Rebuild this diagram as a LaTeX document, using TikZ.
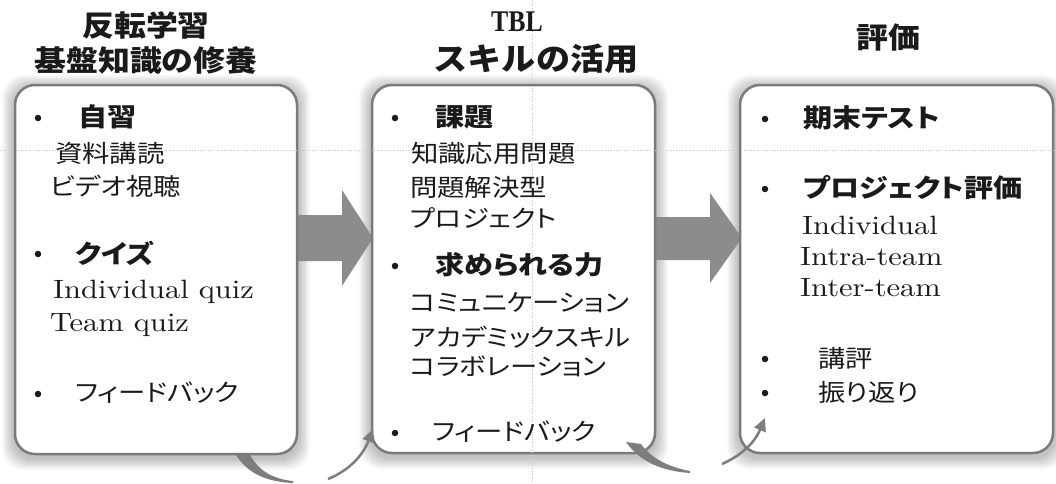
\documentclass[tikz,border=0pt]{standalone}
\usepackage{fontspec}
\newfontfamily\jp{Noto Sans CJK JP}[FakeStretch=1.14,RawFeature=+palt]
\newfontfamily\jph{Noto Sans CJK JP}[FakeStretch=1.1]
\newfontfamily\en{lmroman10-regular.otf}[FakeStretch=1.15]
\newfontfamily\tblf{Liberation Serif Bold}[FakeStretch=0.86]
\usetikzlibrary{arrows.meta,calc,backgrounds}
\definecolor{txt}{HTML}{1A1A1A}
\definecolor{boxgray}{HTML}{7A7A7A}
\definecolor{arrgray}{HTML}{8C8C8C}
\definecolor{curvgray}{HTML}{7D7D7D}
\definecolor{gridc}{HTML}{C8C8C8}
\begin{document}
\begin{tikzpicture}[x=1pt,y=-1pt,
  panel/.style={draw=boxgray, line width=2.5pt, fill=white, rounded corners=20pt, inner sep=0pt},
  jt/.style={anchor=west, inner sep=0pt, text=txt, font=\jp\fontsize{24}{26}\selectfont},
  jb/.style={anchor=west, inner sep=0pt, text=txt, font=\jp\bfseries\fontsize{25.5}{27}\selectfont},
  et/.style={anchor=west, inner sep=0pt, text=txt, font=\en\fontsize{26.5}{28}\selectfont},
  bul/.style={circle, fill=txt, inner sep=0pt, minimum size=6.5pt},
  hd/.style={anchor=center, inner sep=0pt, text=txt, font=\jph\bfseries\fontsize{29}{30}\selectfont},
  bigarrow/.style={fill=arrgray},
  curvefill/.style={fill=curvgray},
  curvetip/.style={draw=curvgray, line width=2.5pt, -{Triangle[length=13pt,width=12pt]}},
  gridline/.style={draw=gridc, line width=0.6pt, dotted}
]
\useasboundingbox (0,0) rectangle (1056,483);

% panels
\node[panel, minimum width=282pt, minimum height=369pt] (b1) at (156,269.5) {};
\node[panel, minimum width=283pt, minimum height=368pt] (b2) at (513.5,269) {};
\node[panel, minimum width=313pt, minimum height=368pt] (b3) at (896.5,269) {};

\begin{scope}[on background layer]
  \fill[white] (0,0) rectangle (1056,483);
  \foreach \n in {b1,b2,b3}{
    \foreach \i in {1,...,9}{
      \fill[black, opacity=0.028, rounded corners=22pt]
        ($(\n.north west)+(-\i*1.3,-\i*1.3+3)$) rectangle ($(\n.south east)+(\i*1.3,\i*1.3+3)$);
    }
  }
  % big arrows
  \fill[bigarrow] (290,215) -- (342,215) -- (342,190) -- (373,238) -- (342,286) -- (342,261) -- (290,261) -- cycle;
  \fill[bigarrow] (650,217) -- (710,217) -- (710,193) -- (742,238) -- (710,283) -- (710,260) -- (650,260) -- cycle;
\end{scope}

% faint guide lines
\draw[gridline] (0,150) -- (1056,150);
\draw[gridline] (532,0) -- (532,483);

% headers
\node[hd] (h1a) at (146,25) {反転学習};
\node[hd] (h1b) at (146,60) {基盤知識の修養};
\node[anchor=center, inner sep=0pt, text=txt, font=\tblf\fontsize{30}{30}\selectfont] (h2a) at (517,22) {TBL};
\node[hd, font=\jph\bfseries\fontsize{31}{32}\selectfont] (h2b) at (536,59) {スキルの活用};
\node[hd] (h3) at (888,38) {評価};

% box 1
\node[bul] at (38,118) {};
\node[jb] (t11) at (78,117) {自習};
\node[jt] (t12) at (55,153) {資料講読};
\node[jt] (t13) at (50,186) {ビデオ視聴};
\node[bul] at (38,254) {};
\node[jb] (t14) at (75,253) {クイズ};
\node[et] (t15) at (53,292) {Individual quiz};
\node[et] (t16) at (50,325) {Team quiz};
\node[bul] at (38,394) {};
\node[jt] (t17) at (75,393) {フィードバック};

% box 2
\node[bul] at (395,118) {};
\node[jb] (t21) at (435,117) {課題};
\node[jt] (t22) at (411,153) {知識応用問題};
\node[jt] (t23) at (410,187) {問題解決型};
\node[jt] (t24) at (410,218) {プロジェクト};
\node[bul] at (395,266) {};
\node[jb] (t25) at (435,265) {求められる力};
\node[jt] (t26) at (410,303) {コミュニケーション};
\node[jt] (t27) at (410,337) {アカデミックスキル};
\node[jt] (t28) at (410,366) {コラボレーション};
\node[bul] at (395,433) {};
\node[jt] (t29) at (432,432) {フィードバック};

% box 3
\node[bul] at (765,119) {};
\node[jb] (t31) at (803,118) {期末テスト};
\node[bul] at (765,189) {};
\node[jb] (t32) at (803,188) {プロジェクト評価};
\node[et] (t33) at (802,225) {Individual};
\node[et] (t34) at (800,257) {Intra-team};
\node[et] (t35) at (800,288) {Inter-team};
\node[bul] at (765,359) {};
\node[jt] (t36) at (818,358) {講評};
\node[bul] at (765,393) {};
\node[jt] (t37) at (818,392) {振り返り};

% curved feedback arrows
\coordinate (c1s) at (328,479);
\coordinate (c1e) at (373,429);
\fill[curvefill] (236,455) .. controls (248,474) and (268,482) .. (293,483) -- (293,481) .. controls (273,479) and (259,471) .. (250,455) -- cycle;
\draw[curvetip] (c1s) .. controls (350,470) and (363,455) .. (c1e);
\coordinate (c2s) at (722,464);
\coordinate (c2e) at (765,418);
\fill[curvefill] (626,442) .. controls (640,462) and (662,471) .. (690,473) -- (690,471) .. controls (668,467) and (651,458) .. (641,444) -- cycle;
\draw[curvetip] (c2s) .. controls (740,456) and (754,444) .. (c2e);
\end{tikzpicture}
\end{document}
